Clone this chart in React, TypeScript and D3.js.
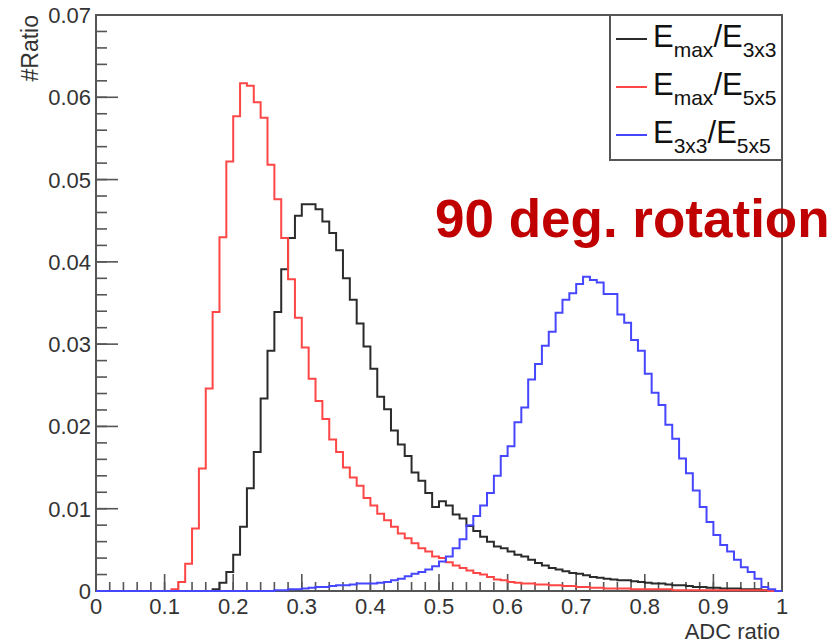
import React, { useRef, useEffect } from 'react';
import * as d3 from 'd3';

/* ─── Histogram contents, 100 bins of width 0.01 on [0, 1] ─── */
const BIN_LOW = d3.range(100).map(i => i / 100);

const EMAX_E3X3 = [
    0, 0, 0, 0, 0, 0, 0, 0, 0, 0,
    0, 0, 0, 0, 0, 0, 0, 0.0002, 0.0010, 0.0023,
    0.0044, 0.0078, 0.0125, 0.0169, 0.0234, 0.0292, 0.0339, 0.0391, 0.0429, 0.0456,
    0.0470, 0.0470, 0.0464, 0.0449, 0.0435, 0.0414, 0.0380, 0.0354, 0.0325, 0.0297,
    0.0270, 0.0236, 0.0221, 0.0195, 0.0178, 0.0164, 0.0144, 0.0134, 0.0119, 0.0102,
    0.0109, 0.0104, 0.0093, 0.0088, 0.0079, 0.0073, 0.0066, 0.0060, 0.0054, 0.0052,
    0.0048, 0.0044, 0.0042, 0.0038, 0.0034, 0.0031, 0.0028, 0.0026, 0.0024, 0.0022,
    0.0021, 0.0019, 0.0017, 0.0016, 0.0015, 0.0014, 0.0013, 0.0013, 0.0012, 0.0011,
    0.0010, 0.0009, 0.0009, 0.0008, 0.0007, 0.0007, 0.0006, 0.0005, 0.0005, 0.0004,
    0.0004, 0.0003, 0.0003, 0.0003, 0.0002, 0.0002, 0.0002, 0.0001, 0.0001, 0,
];

const EMAX_E5X5 = [
    0, 0, 0, 0, 0, 0, 0, 0, 0, 0,
    0, 0.0002, 0.0011, 0.0033, 0.0076, 0.0149, 0.0246, 0.0339, 0.0430, 0.0522,
    0.0577, 0.0617, 0.0614, 0.0594, 0.0575, 0.0518, 0.0476, 0.0429, 0.0379, 0.0332,
    0.0296, 0.0258, 0.0231, 0.0209, 0.0184, 0.0169, 0.0150, 0.0138, 0.0128, 0.0113,
    0.0104, 0.0094, 0.0086, 0.0078, 0.0070, 0.0064, 0.0058, 0.0052, 0.0048, 0.0042,
    0.0040, 0.0035, 0.0031, 0.0028, 0.0025, 0.0022, 0.0020, 0.0017, 0.0014, 0.0013,
    0.0011, 0.0010, 0.0009, 0.0009, 0.0008, 0.0008, 0.0007, 0.0007, 0.0006, 0.0006,
    0.0005, 0.0005, 0.0004, 0.0004, 0.0003, 0.0003, 0.0003, 0.0003, 0.0002, 0.0002,
    0.0002, 0.0002, 0.0002, 0.0002, 0.0001, 0.0001, 0.0001, 0.0001, 0.0001, 0.0001,
    0.0001, 0.0001, 0.0001, 0.0001, 0.0001, 0.0001, 0.0001, 0.0001, 0, 0,
];

const E3X3_E5X5 = [
    0, 0, 0, 0, 0, 0, 0, 0, 0, 0,
    0, 0, 0, 0, 0, 0, 0, 0, 0, 0,
    0, 0, 0, 0, 0, 0, 0.0001, 0.0001, 0.0002, 0.0002,
    0.0003, 0.0004, 0.0005, 0.0005, 0.0006, 0.0007, 0.0007, 0.0008, 0.0009, 0.0009,
    0.0009, 0.0010, 0.0011, 0.0013, 0.0015, 0.0018, 0.0021, 0.0023, 0.0026, 0.0030,
    0.0036, 0.0042, 0.0052, 0.0063, 0.0080, 0.0091, 0.0104, 0.0119, 0.0140, 0.0164,
    0.0176, 0.0205, 0.0223, 0.0257, 0.0276, 0.0298, 0.0315, 0.0338, 0.0354, 0.0362,
    0.0373, 0.0382, 0.0378, 0.0375, 0.0361, 0.0361, 0.0336, 0.0326, 0.0305, 0.0292,
    0.0264, 0.0241, 0.0226, 0.0202, 0.0185, 0.0161, 0.0143, 0.0122, 0.0102, 0.0084,
    0.0068, 0.0056, 0.0048, 0.0038, 0.0029, 0.0023, 0.0015, 0.0005, 0.0002, 0,
];

const X_TICKS = [0, 0.1, 0.2, 0.3, 0.4, 0.5, 0.6, 0.7, 0.8, 0.9, 1];
const X_TICK_LABELS = ['0', '0.1', '0.2', '0.3', '0.4', '0.5', '0.6', '0.7', '0.8', '0.9', '1'];
const Y_TICKS = [0, 0.01, 0.02, 0.03, 0.04, 0.05, 0.06, 0.07];
const Y_TICK_LABELS = ['0', '0.01', '0.02', '0.03', '0.04', '0.05', '0.06', '0.07'];

const SERIES = [
    { values: EMAX_E3X3, color: '#2b2b2b', label: [['E', 0], ['max', 1], ['/E', 0], ['3x3', 1]] },
    { values: EMAX_E5X5, color: '#ff4646', label: [['E', 0], ['max', 1], ['/E', 0], ['5x5', 1]] },
    { values: E3X3_E5X5, color: '#4646ff', label: [['E', 0], ['3x3', 1], ['/E', 0], ['5x5', 1]] },
];

const FONT = "'Liberation Sans', Arial, Helvetica, sans-serif";
const AXIS = '#555';
const W = 833, H = 644;
const M = { left: 96, right: 782, top: 15, bottom: 591 };

export default function App() {
    const svgRef = useRef(null);

    useEffect(() => {
        const svg = d3.select(svgRef.current);
        svg.selectAll('*').remove();

        const x = d3.scaleLinear().domain([0, 1]).range([M.left, M.right]);
        const y = d3.scaleLinear().domain([0, 0.07]).range([M.bottom, M.top]);

        svg.append('rect').attr('width', W).attr('height', H).attr('fill', '#fff');

        // minor ticks every 0.02 / 0.002, major ticks drawn longer
        const xMinor = d3.range(0, 1.0001, 0.02);
        const yMinor = d3.range(0, 0.07001, 0.002);
        const ticks = svg.append('g').attr('stroke', AXIS).attr('stroke-width', 1.6);
        ticks.selectAll('.xm').data(xMinor).join('line')
            .attr('x1', d => x(d)).attr('x2', d => x(d))
            .attr('y1', M.bottom).attr('y2', M.bottom - 9);
        ticks.selectAll('.xM').data(X_TICKS).join('line')
            .attr('x1', d => x(d)).attr('x2', d => x(d))
            .attr('y1', M.bottom).attr('y2', M.bottom - 17);
        ticks.selectAll('.ym').data(yMinor).join('line')
            .attr('x1', M.left).attr('x2', M.left + 11)
            .attr('y1', d => y(d)).attr('y2', d => y(d));
        ticks.selectAll('.yM').data(Y_TICKS).join('line')
            .attr('x1', M.left).attr('x2', M.left + 22)
            .attr('y1', d => y(d)).attr('y2', d => y(d));

        // frame
        svg.append('rect')
            .attr('x', M.left).attr('y', M.top)
            .attr('width', M.right - M.left).attr('height', M.bottom - M.top)
            .attr('fill', 'none').attr('stroke', AXIS).attr('stroke-width', 2);

        // tick labels
        svg.append('g').selectAll('text').data(X_TICKS).join('text')
            .attr('x', d => x(d)).attr('y', 614)
            .attr('text-anchor', 'middle').attr('font-size', 22).attr('font-family', FONT).attr('fill', '#333')
            .text((_, i) => X_TICK_LABELS[i]);
        svg.append('g').selectAll('text').data(Y_TICKS).join('text')
            .attr('x', 91).attr('y', d => y(d) + 8)
            .attr('text-anchor', 'end').attr('font-size', 22).attr('font-family', FONT).attr('fill', '#333')
            .text((_, i) => Y_TICK_LABELS[i]);

        // axis titles
        svg.append('text').attr('transform', 'translate(38,15) rotate(-90)')
            .attr('text-anchor', 'end').attr('font-size', 23).attr('font-family', FONT).attr('fill', '#333')
            .text('#Ratio');
        svg.append('text').attr('x', 780).attr('y', 639)
            .attr('text-anchor', 'end').attr('font-size', 22).attr('font-family', FONT).attr('fill', '#333')
            .text('ADC ratio');

        // histograms as step lines
        const line = d3.line().x(d => x(d[0])).y(d => y(d[1])).curve(d3.curveStepAfter);
        SERIES.forEach(s => {
            const pts = BIN_LOW.map((b, i) => [b, s.values[i]]);
            pts.push([1, s.values[s.values.length - 1]]);
            svg.append('path').datum(pts)
                .attr('fill', 'none').attr('stroke', s.color).attr('stroke-width', 2)
                .attr('d', line);
        });

        // legend
        const lg = svg.append('g');
        lg.append('rect').attr('x', 610).attr('y', M.top).attr('width', M.right - 610).attr('height', 145)
            .attr('fill', '#fff').attr('stroke', AXIS).attr('stroke-width', 2);
        SERIES.forEach((s, i) => {
            const cy = 39 + i * 48;
            lg.append('line').attr('x1', 616).attr('x2', 647).attr('y1', cy).attr('y2', cy)
                .attr('stroke', s.color).attr('stroke-width', 2);
            const t = lg.append('text').attr('x', 653).attr('y', cy + 8)
                .attr('font-family', FONT).attr('fill', '#111');
            let prevSub = 0;
            s.label.forEach(([str, sub]) => {
                t.append('tspan').attr('font-size', sub ? 21 : 31)
                    .attr('dy', sub === prevSub ? 0 : (sub ? 10 : -10))
                    .text(str);
                prevSub = sub;
            });
        });

        // annotation
        svg.append('text').attr('x', 435).attr('y', 237)
            .attr('font-size', 53).attr('font-weight', 'bold').attr('font-family', FONT)
            .attr('fill', '#c00000')
            .text('90 deg. rotation');
    }, []);

    return (
        <div style={{ position: 'absolute', left: 0, top: 0 }}>
            <svg ref={svgRef} width={W} height={H} style={{ display: 'block' }} />
        </div>
    );
}
